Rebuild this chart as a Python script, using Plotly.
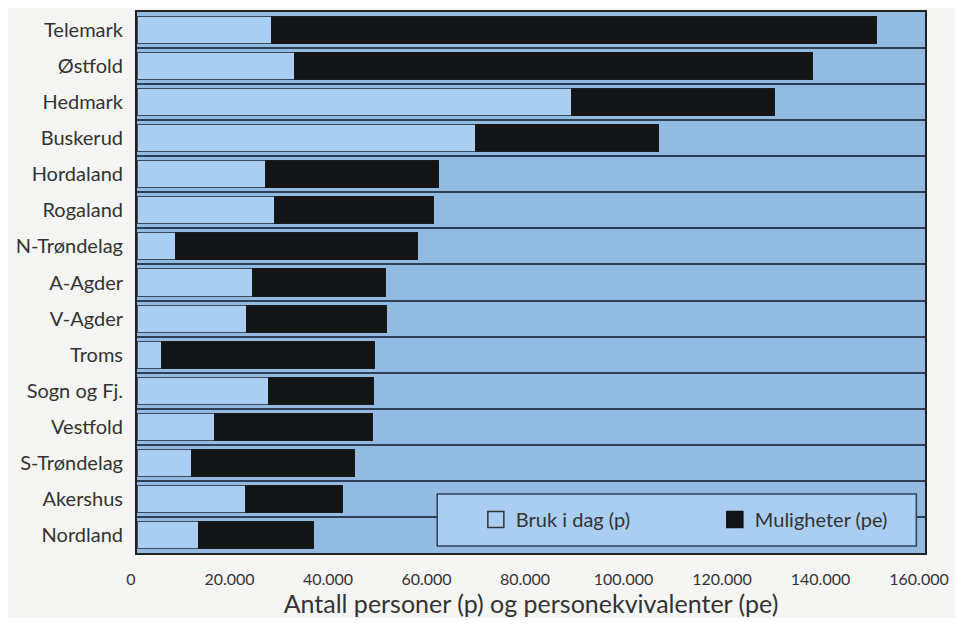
import plotly.graph_objects as go

counties = ["Telemark", "Østfold", "Hedmark", "Buskerud", "Hordaland", "Rogaland",
            "N-Trøndelag", "A-Agder", "V-Agder", "Troms", "Sogn og Fj.", "Vestfold",
            "S-Trøndelag", "Akershus", "Nordland"]
bruk_i_dag = [27400, 31900, 88300, 68800, 26000, 28000, 7900, 23500, 22300, 5000,
              26700, 15800, 11100, 22100, 12400]
muligheter = [122800, 105200, 41100, 37000, 35200, 32300, 49000, 27000, 28300, 43200,
              21400, 32000, 33000, 19600, 23500]
tick_vals = [0, 20000, 40000, 60000, 80000, 100000, 120000, 140000, 160000]
tick_text = ["0", "20.000", "40.000", "60.000", "80.000", "100.000", "120.000", "140.000", "160.000"]

LIGHT = "#a9cef2"
BG = "#93bbe2"
DARK = "#121518"
FONT = "Lato"
TXT = "#333333"

fig = go.Figure()
fig.add_trace(go.Bar(y=counties, x=bruk_i_dag, orientation="h", name="Bruk i dag (p)",
                     marker=dict(color=LIGHT, line=dict(color="#3b4a5c", width=1)),
                     showlegend=False))
fig.add_trace(go.Bar(y=counties, x=muligheter, orientation="h", name="Muligheter (pe)",
                     marker=dict(color=DARK, line=dict(color="#1a1a1a", width=1)),
                     showlegend=False))
# legend entries
fig.add_trace(go.Scatter(x=[None], y=[None], mode="markers", name="Bruk i dag (p)",
                         marker=dict(symbol="square", size=16, color=LIGHT,
                                     line=dict(color="#333", width=1.5))))
fig.add_trace(go.Scatter(x=[None], y=[None], mode="markers", name="Muligheter (pe)",
                         marker=dict(symbol="square", size=16, color=DARK,
                                     line=dict(color="#111", width=1.5))))

fig.update_layout(
    width=947, height=610,
    barmode="stack", bargap=0.25,
    paper_bgcolor="#f5f5f3", plot_bgcolor=BG,
    margin=dict(l=129, r=30, t=4, b=65, autoexpand=False),
    font=dict(family=FONT, color=TXT),
    xaxis=dict(range=[0, 160000], tickvals=tick_vals, ticktext=tick_text,
               showgrid=False, zeroline=False, showline=True, mirror=True,
               linecolor="#222", linewidth=2, ticks="",
               tickfont=dict(size=16, color=TXT), ticklabelstandoff=11,
               ticklabelshift=-6,
               title=dict(text="Antall personer (p) og personekvivalenter (pe)",
                          font=dict(size=25, color=TXT), standoff=4)),
    yaxis=dict(autorange="reversed", tickson="boundaries", showgrid=True,
               gridcolor="#2e4058", gridwidth=2, showline=True, mirror=True,
               linecolor="#222", linewidth=2, ticks="",
               tickfont=dict(size=20, color=TXT), ticklabelstandoff=8),
    legend=dict(orientation="h", x=0.43, xanchor="left", y=0.062, yanchor="middle",
                traceorder="normal",
                bgcolor="rgba(0,0,0,0)", font=dict(size=20, color=TXT),
                entrywidth=194, entrywidthmode="pixels"),
    shapes=[dict(type="rect", xref="paper", yref="paper", x0=0.381, x1=0.989,
                 y0=0.013, y1=0.109, fillcolor=LIGHT, line=dict(color="#2e4058", width=1.5),
                 layer="above")],
)
fig.write_html("out.html")
